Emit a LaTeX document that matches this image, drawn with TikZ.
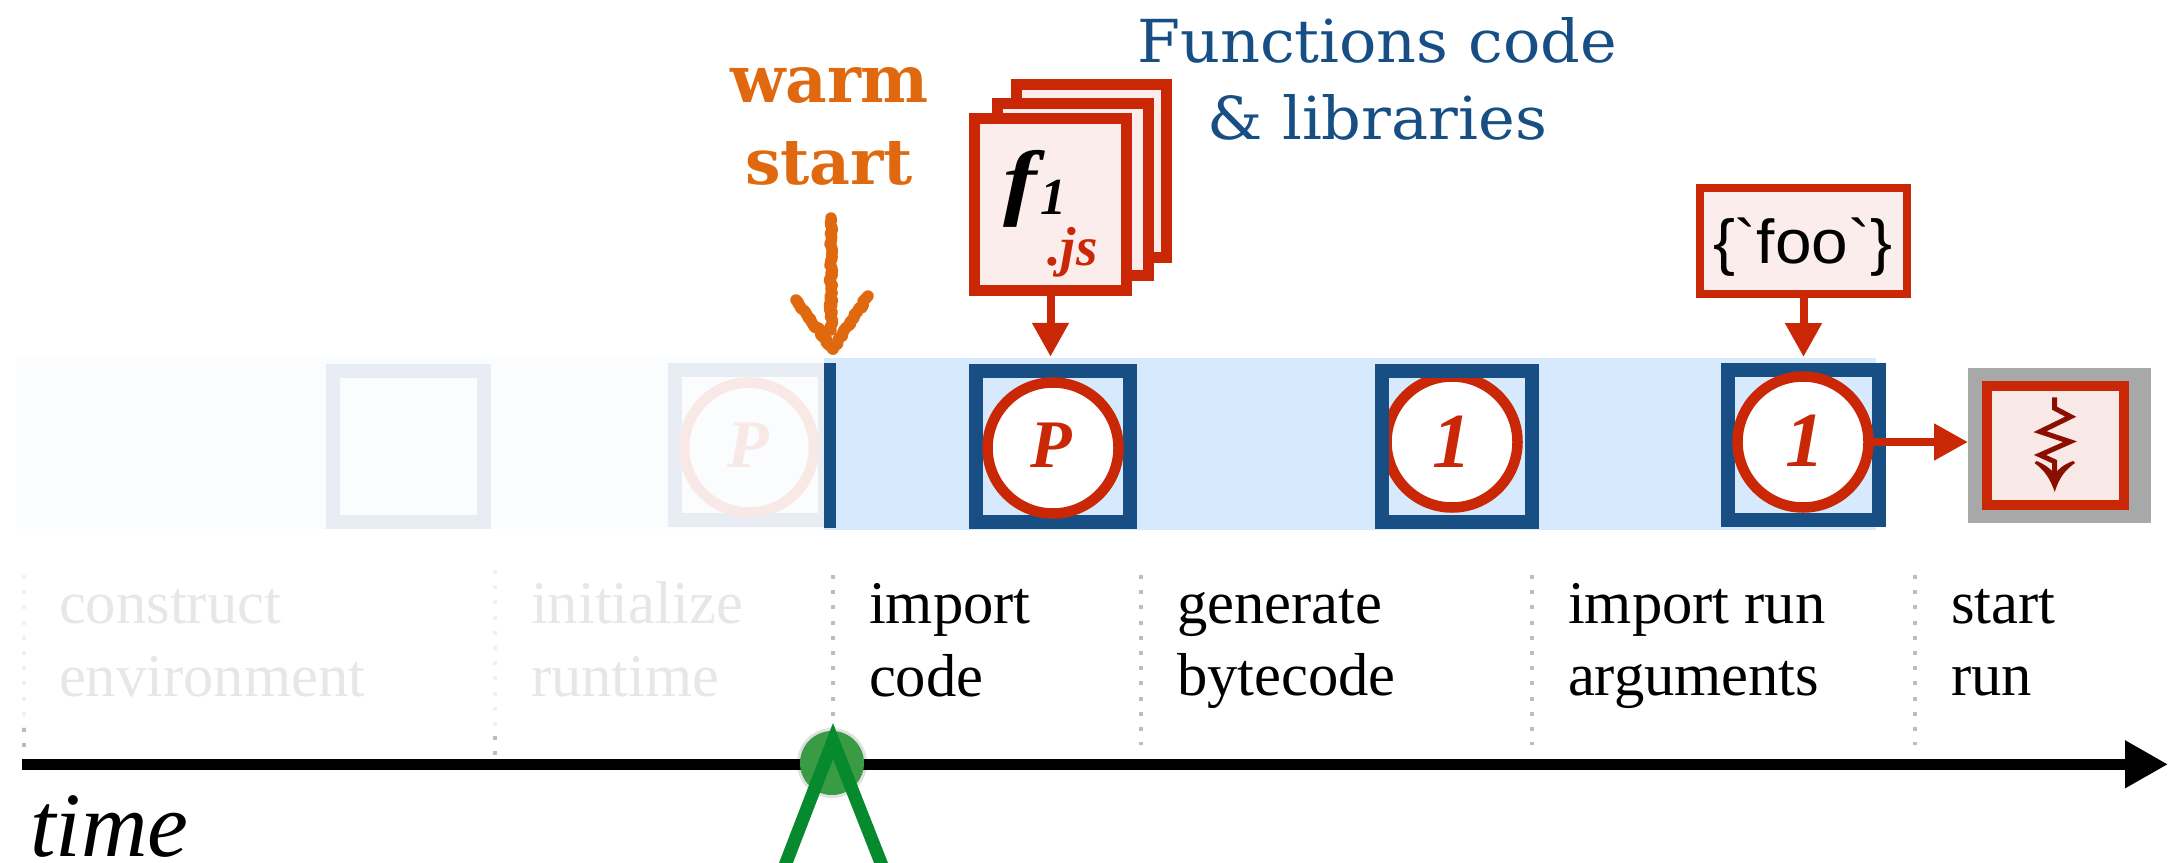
\documentclass[tikz,border=0pt]{standalone}
\usepackage{fontspec}
\usepackage{graphicx}
\usetikzlibrary{arrows.meta,decorations.pathmorphing,calc}
\newfontfamily\tnr{Liberation Serif}
\newfontfamily\slab{DejaVu Serif}
\newfontfamily\fsans{Liberation Sans}
\definecolor{cred}{HTML}{C92706}
\definecolor{cblue}{HTML}{174F85}
\definecolor{cband}{HTML}{D7E9FC}
\definecolor{cpaleband}{HTML}{FBFCFE}
\definecolor{cpalebox}{HTML}{E8EDF4}
\definecolor{cpalered}{HTML}{F8E8E6}
\definecolor{cpink}{HTML}{FAEDEB}
\definecolor{corange}{HTML}{E0690F}
\definecolor{cgray}{HTML}{A7A9A8}
\definecolor{cdark}{HTML}{8B0F00}
\definecolor{cgreen}{HTML}{078A2D}
\definecolor{cdot}{HTML}{3A9B45}
\definecolor{cfade}{HTML}{E7E7E7}
\definecolor{cdots}{HTML}{BDBDBD}
\definecolor{cfadedots}{HTML}{F1F1F1}
\newcommand{\fs}[1]{\fontsize{#1}{#1}\selectfont}
\tikzset{
  every node/.style={inner sep=0pt,outer sep=0pt},
  fillbar/.style={rectangle,draw=none},
  stepblue/.style={rectangle,draw=cblue,line width=14pt},
  stepfade/.style={rectangle,draw=cpalebox,line width=14pt},
  stepred/.style={rectangle,draw=cred,fill=cpink},
  circred/.style={circle,draw=cred,fill=white,line width=10.5pt,minimum size=131pt},
  circfade/.style={circle,draw=cpalered,line width=10.5pt,minimum size=130pt},
  lab/.style={anchor=base west,font=\tnr\fs{60.6},text=black},
  labfade/.style={lab,text=cfade},
  num/.style={anchor=base west,font=\tnr\bfseries\itshape\fs{68},text=cred},
  redarrow/.style={draw=cred,line width=8pt,-{Triangle[length=34pt,width=35pt,fill=cred]}},
  dotline/.style={line width=4pt,draw=cdots,dash pattern=on 4pt off 11.2pt},
  dotfade/.style={dotline,draw=cfadedots},
  chalk/.style={draw=corange,line width=11.5pt,line cap=round,line join=round,decorate,decoration={random steps,segment length=2.5pt,amplitude=1.5pt}}
}
\begin{document}
\begin{tikzpicture}[x=1pt,y=-1pt]
\useasboundingbox (0,0) rectangle (2168,862);
\pgfmathsetseed{7}
% pale band and faded stages
\node[fillbar,fill=cpaleband,minimum width=808pt,minimum height=172pt] (paleband) at (420,443) {};
\node[stepfade,minimum width=151pt,minimum height=151pt] (fb1) at (408.5,446.5) {};
\node[stepfade,minimum width=150pt,minimum height=150pt] (fb2) at (750,445) {};
\node[circfade] (fc) at (749,447.5) {};
\node[num,text=cpalered] (fp) at (727,467) {P};
% active band
\node[fillbar,fill=cband,minimum width=1052pt,minimum height=172pt] (band) at (1350,443.5) {};
\node[fillbar,fill=cblue,minimum width=12pt,minimum height=164.5pt] (bar) at (830,445.3) {};
% active stage boxes
\node[stepblue,minimum width=154pt,minimum height=150.5pt] (pb) at (1053,446.7) {};
\node[circred] (pc) at (1053,448) {};
\node[num] (pl) at (1030,467) {P};
\node[circred] (c2) at (1452,442) {};
\node[stepblue,minimum width=150pt,minimum height=151pt] (b2) at (1457,446.5) {};
\node[num,font=\tnr\bfseries\itshape\fs{78}] (l2) at (1432,467) {1};
\node[stepblue,minimum width=151pt,minimum height=150pt] (b3) at (1803.5,445) {};
\node[circred] (c3) at (1803,442) {};
\node[num,font=\tnr\bfseries\itshape\fs{78}] (l3) at (1785,466) {1};
% run box
\node[fillbar,fill=cgray,minimum width=183pt,minimum height=155pt] (gray) at (2059.5,445.5) {};
\node[stepred,line width=10pt,minimum width=137pt,minimum height=119pt,fill=cpalered] (runb) at (2055.5,445.5) {};
\coordinate (sq0) at (2054.7,397.3);
\coordinate (sq1) at (2054.7,408.3);
\coordinate (sq2) at (2070.7,416.7);
\coordinate (sq3) at (2040,431.7);
\coordinate (sq4) at (2070,441.7);
\coordinate (sq5) at (2040,455);
\coordinate (sq6) at (2054.7,461.7);
\coordinate (sq7) at (2054.7,485);
\draw[cdark,line width=5pt,miter limit=3] (sq0)--(sq1)--(sq2)--(sq3)--(sq4)--(sq5)--(sq6)--(sq7);
\fill[cdark] (2054.7,492) .. controls (2050,478) and (2044,470) .. (2034.5,463) -- (2036.5,461) .. controls (2044,464) and (2050,468) .. (2054.7,474) .. controls (2059,468) and (2065,464) .. (2073,461) -- (2075,463) .. controls (2065,470) and (2059,478) .. (2054.7,492) -- cycle;
% f1 stack
\node[stepred,line width=11pt,minimum width=150pt,minimum height=173pt] (fback) at (1091.5,171) {};
\node[stepred,line width=11pt,minimum width=151pt,minimum height=172pt] (fmid) at (1073,189.5) {};
\node[stepred,line width=11pt,minimum width=152pt,minimum height=172pt] (ffront) at (1050.5,204.5) {};
\node[anchor=base west,font=\tnr\bfseries\itshape\fs{84}] (ff) at (1003,209) {\scalebox{1.2}[1]{f}};
\node[anchor=base west,font=\tnr\itshape\bfseries\fs{52}] (fone) at (1040,214) {1};
\node[anchor=base west,font=\tnr\bfseries\itshape\fs{55},text=cred] (fjs) at (1047,265) {.js};
% foo box
\node[stepred,line width=8pt,minimum width=207pt,minimum height=106pt] (foo) at (1803.5,241) {};
\node[anchor=base,font=\fsans\fs{62}] (footext) at (1802.5,263) {\scalebox{1.06}[1]{\{\symbol{96}foo\symbol{96}\}}};
% arrows
\draw[redarrow,shorten >=14.7pt] (ffront.south) -- (ffront.south |- pb.north);
\draw[redarrow,shorten >=13pt] (foo.south) -- (foo.south |- b3.north);
\draw[redarrow] (c3.east) -- (c3.east -| gray.west);
% top texts
\node[anchor=base west,text=cblue,font=\slab] (t1) at (1137,62) {\resizebox{480pt}{45pt}{Functions code}};
\node[anchor=base west,text=cblue,font=\slab] (t2) at (1207,139) {\resizebox{340pt}{45pt}{\&~libraries}};
\node[anchor=base west,text=corange,font=\slab\bfseries] (w1) at (730,102) {\resizebox{199pt}{35pt}{warm}};
\node[anchor=base west,text=corange,font=\slab\bfseries] (w2) at (745,184) {\resizebox{168pt}{43pt}{start}};
% chalk arrow
\coordinate (ch0) at (831,218);
\coordinate (ch1) at (831,330);
\coordinate (ch2) at (796,300);
\coordinate (ch3) at (833,349);
\coordinate (ch4) at (868,296);
\draw[chalk] (ch0) -- (ch1);
\draw[chalk] (ch2) -- (ch3);
\draw[chalk] (ch3) -- (ch4);
% dotted separators
\coordinate (d1a) at (24,575);   \coordinate (d1b) at (24,728);
\coordinate (d1c) at (24,728);   \coordinate (d1d) at (24,748);
\coordinate (d2a) at (495,570);  \coordinate (d2b) at (495,736);
\coordinate (d2c) at (495,736);  \coordinate (d2d) at (495,756);
\coordinate (d3a) at (833,575);  \coordinate (d3b) at (833,745);
\coordinate (d4a) at (1141,575); \coordinate (d4b) at (1141,745);
\coordinate (d5a) at (1532,575); \coordinate (d5b) at (1532,745);
\coordinate (d6a) at (1915,575); \coordinate (d6b) at (1915,745);
\draw[dotfade] (d1a) -- (d1b);
\draw[dotline] (d1c) -- (d1d);
\draw[dotfade] (d2a) -- (d2b);
\draw[dotline] (d2c) -- (d2d);
\draw[dotline] (d3a) -- (d3b);
\draw[dotline] (d4a) -- (d4b);
\draw[dotline] (d5a) -- (d5b);
\draw[dotline] (d6a) -- (d6b);
% stage labels
\node[labfade] (a1) at (59,623) {construct};
\node[labfade] (a2) at (59,696) {environment};
\node[labfade] (b1) at (531,623) {initialize};
\node[labfade] (b2l) at (531,696) {runtime};
\node[lab] (c1) at (869,623) {import};
\node[lab] (c2l) at (869,696) {code};
\node[lab] (e1) at (1177,623) {generate};
\node[lab] (e2) at (1177,695) {bytecode};
\node[lab] (g1) at (1568,623) {import run};
\node[lab] (g2) at (1568,695) {arguments};
\node[lab] (h1) at (1951,623) {start};
\node[lab] (h2) at (1951,695) {run};
% time axis
\coordinate (axs) at (22,764.3);
\coordinate (axe) at (2168,764.3);
\draw[line width=10.5pt,-{Triangle[length=43pt,width=45pt,fill=black]}] (axs) -- (axe);
\node[anchor=base west,font=\tnr\itshape\fs{92}] (timel) at (30,856) {time};
% lambda marker
\node[circle,fill=black,fill opacity=.12,minimum size=70pt] (halo) at (832,763) {};
\node[circle,fill=cdot,minimum size=64pt] (gdot) at (832,763) {};
\coordinate (lam) at (833,741);
\coordinate (laml) at (784,868);
\coordinate (lamr) at (883,868);
\draw[cgreen,line width=13pt,miter limit=10] (laml) -- (lam) -- (lamr);
\end{tikzpicture}
\end{document}
